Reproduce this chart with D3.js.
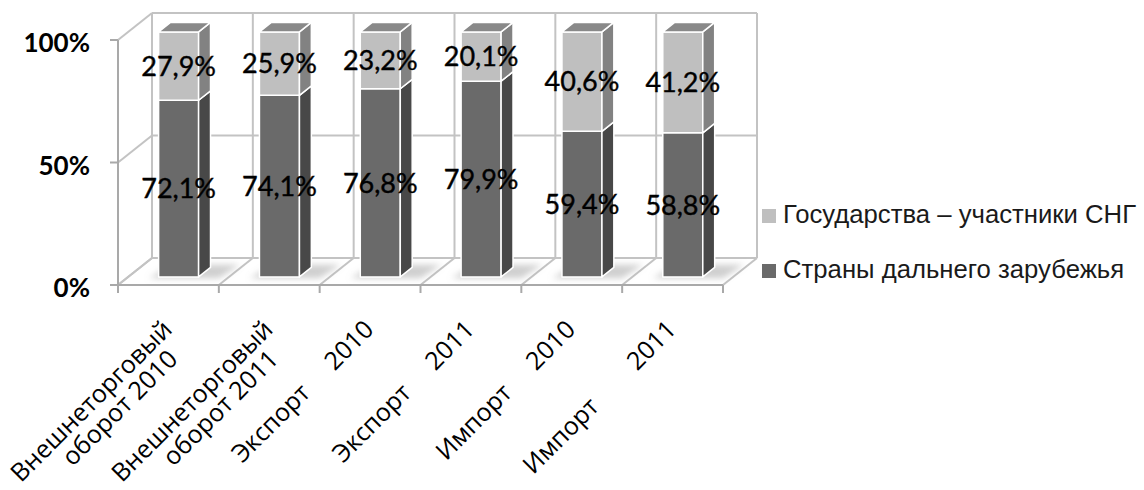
<!DOCTYPE html>
<html>
<head>
<meta charset="utf-8">
<title>Внешняя торговля 2010-2011</title>
<script src="https://cdn.jsdelivr.net/npm/d3@7"></script>
<style>
  body { margin: 0; background: #fff; }
  .tick-label { font: bold 26px Lato, sans-serif; fill: #000; }
  .value-label { font: 27px Lato, sans-serif; fill: #000; stroke: #000; stroke-width: 0.4px; }
  .cat-label { font: 25px "Open Sans", sans-serif; fill: #000; white-space: pre; }
  .legend text { font: 25.7px "Liberation Sans", Arial, sans-serif; fill: #1a1a1a; }
</style>
</head>
<body>
<script>
// categories, one entry per bar ("\n" = line break in the label)
var categories = [
  "Внешнеторговый\nоборот 2010",
  "Внешнеторговый\nоборот 2011",
  "Экспорт     2010",
  "Экспорт     2011",
  "Импорт     2010",
  "Импорт        2011"
];
var seriesNames = ["Страны дальнего зарубежья", "Государства – участники СНГ"];
var farAbroad = [72.1, 74.1, 76.8, 79.9, 59.4, 58.8];   // dark, bottom
var cisStates = [27.9, 25.9, 23.2, 20.1, 40.6, 41.2];   // light, top
var yTicks = [0, 50, 100];
var yTickLabels = ["0%", "50%", "100%"];

var W = 1144, H = 490;
var svg = d3.select("body").append("svg").attr("width", W).attr("height", H);

var x = d3.scaleBand().domain(d3.range(categories.length)).range([118, 723]);
var y = d3.scaleLinear().domain([0, 100]).range([285, 40]);
var DX = 34, DY = 27;          // depth of the 3d box
function proj(px, v, z) { return [px + DX * z, y(v) - DY * z]; }

var gridColor = "#c3c3c3";
var walls = svg.append("g").attr("stroke", gridColor).attr("stroke-width", 2).attr("fill", "none");
var boundaries = categories.map(function(d, i) { return x(i); }).concat([x.range()[1]]);

// back wall and side wall gridlines
yTicks.forEach(function(t) {
  var a = proj(x.range()[0], t, 1), b = proj(x.range()[1], t, 1);
  walls.append("line").attr("x1", a[0]).attr("y1", a[1]).attr("x2", b[0]).attr("y2", b[1]);
  var c = proj(x.range()[0], t, 0);
  walls.append("line").attr("x1", c[0]).attr("y1", c[1]).attr("x2", a[0]).attr("y2", a[1]);
});
boundaries.forEach(function(bx) {
  var a = proj(bx, 0, 1), b = proj(bx, 100, 1), c = proj(bx, 0, 0);
  walls.append("line").attr("x1", a[0]).attr("y1", a[1]).attr("x2", b[0]).attr("y2", b[1]);
  walls.append("line").attr("x1", c[0]).attr("y1", c[1]).attr("x2", a[0]).attr("y2", a[1]);
});

// axes
var axis = svg.append("g").attr("stroke", "#a9a9a9").attr("stroke-width", 2);
axis.append("line").attr("x1", x.range()[0]).attr("x2", x.range()[1]).attr("y1", y(0)).attr("y2", y(0));
axis.append("line").attr("x1", x.range()[0]).attr("x2", x.range()[0]).attr("y1", y(0)).attr("y2", y(100));
boundaries.forEach(function(bx) {
  axis.append("line").attr("x1", bx).attr("x2", bx).attr("y1", y(0)).attr("y2", y(0) + 8);
});
yTicks.forEach(function(t) {
  axis.append("line").attr("x1", x.range()[0] - 8).attr("x2", x.range()[0]).attr("y1", y(t)).attr("y2", y(t));
});

svg.append("g").selectAll("text").data(yTicks).enter().append("text")
  .attr("class", "tick-label")
  .attr("x", 90).attr("y", function(d) { return y(d) + 12; })
  .attr("text-anchor", "end")
  .text(function(d, i) { return yTickLabels[i]; });

// soft shadows on the floor
var defs = svg.append("defs");
defs.append("filter").attr("id", "blur").attr("x", "-50%").attr("y", "-50%").attr("width", "200%").attr("height", "200%")
  .append("feGaussianBlur").attr("stdDeviation", 3);

var barW = 40, z0 = 0.3, z1 = 0.65;
var shadows = svg.append("g").attr("filter", "url(#blur)");
categories.forEach(function(c, i) {
  var cx = x(i) + x.bandwidth() / 2;
  var xl = cx - barW / 2, xr = cx + barW / 2;
  var pts = [proj(xl - 8, 0, z0 - 0.05), proj(xr + 22, 0, z0 - 0.05), proj(xr + 26, 0, z1 + 0.1), proj(xl - 2, 0, z1 + 0.1)];
  shadows.append("polygon").attr("points", pts.join(" ")).attr("fill", "#a0a0a0").attr("opacity", 0.5);
});

// bars
var segColors = [
  { front: "#6a6a6a", side: "#484848", top: "#898989" },
  { front: "#bfbfbf", side: "#828282", top: "#898989" }
];
var bars = svg.append("g").attr("stroke", "#fff").attr("stroke-width", 1.5).attr("stroke-linejoin", "round");
var labels = svg.append("g");
categories.forEach(function(c, i) {
  var cx = x(i) + x.bandwidth() / 2 + DX * z0;
  var xl = x(i) + x.bandwidth() / 2 - barW / 2, xr = xl + barW;
  var segs = [[0, farAbroad[i]], [farAbroad[i], farAbroad[i] + cisStates[i]]];
  segs.forEach(function(s, k) {
    var col = segColors[k];
    var f1 = proj(xl, s[1], z0), f0 = proj(xr, s[0], z0);
    bars.append("rect").attr("x", f1[0]).attr("y", f1[1])
      .attr("width", f0[0] - f1[0]).attr("height", f0[1] - f1[1]).attr("fill", col.front);
    var side = [proj(xr, s[0], z0), proj(xr, s[0], z1), proj(xr, s[1], z1), proj(xr, s[1], z0)];
    bars.append("polygon").attr("points", side.join(" ")).attr("fill", col.side);
    if (k === segs.length - 1) {
      var top = [proj(xl, s[1], z0), proj(xr, s[1], z0), proj(xr, s[1], z1), proj(xl, s[1], z1)];
      bars.append("polygon").attr("points", top.join(" ")).attr("fill", col.top);
    }
    var val = s[1] - s[0];
    labels.append("text").attr("class", "value-label")
      .attr("x", cx).attr("y", (y(s[0]) + y(s[1])) / 2 - DY * z0)
      .attr("dy", "0.36em").attr("text-anchor", "middle")
      .text(val.toFixed(1).replace(".", ",") + "%");
  });
});

// rotated category labels (text ends just under the category centre)
var catG = svg.append("g");
categories.forEach(function(c, i) {
  var g = catG.append("g")
    .attr("transform", "translate(" + (x(i) + x.bandwidth() / 2 + 5) + ",331) rotate(-45)");
  c.split("\n").forEach(function(line, k) {
    g.append("text").attr("class", "cat-label")
      .attr("x", k === 0 ? 0 : -17).attr("y", k * 25)
      .attr("text-anchor", "end")
      .text(line);
  });
});

// legend
var legendColors = [segColors[1].front, segColors[0].front];
var legendNames = [seriesNames[1], seriesNames[0]];
var legend = svg.append("g").attr("class", "legend");
legendNames.forEach(function(n, k) {
  var ly = 223 + k * 55;
  legend.append("rect").attr("x", 762).attr("y", ly - 14).attr("width", 14).attr("height", 14).attr("fill", legendColors[k]);
  legend.append("text").attr("x", 783).attr("y", ly).text(n);
});
</script>
</body>
</html>
